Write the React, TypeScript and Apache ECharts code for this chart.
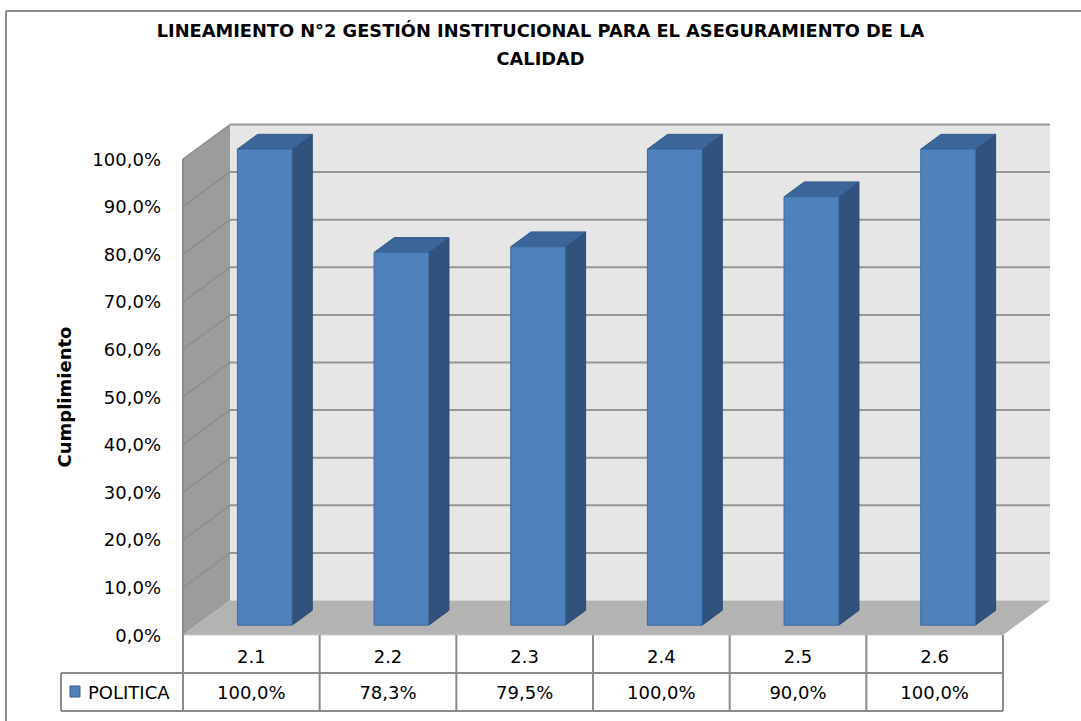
import React, { useEffect, useRef } from "react";
import * as echarts from "echarts";

const categories = ["2.1", "2.2", "2.3", "2.4", "2.5", "2.6"];
const politica = [100, 78.3, 79.5, 100, 90, 100];
const yTicks = [0, 10, 20, 30, 40, 50, 60, 70, 80, 90, 100];
const seriesName = "POLITICA";
const titleText = "LINEAMIENTO N°2 GESTIÓN INSTITUCIONAL PARA EL ASEGURAMIENTO DE LA\nCALIDAD";
const yAxisTitle = "Cumplimiento";

const FONT = "'DejaVu Sans', 'Liberation Sans', sans-serif";
const pct = (v: number) => v.toFixed(1).replace(".", ",") + "%";

// depth vector of the 3D box (pixels)
const DX = 47;
const DY = -34.5;
const BAR_D0 = 0.285;
const BAR_D1 = 0.715;
const BAR_W = 0.4;

export default function App() {
  const ref = useRef<HTMLDivElement>(null);
  useEffect(() => {
    document.body.style.margin = "0";
    const chart = echarts.init(ref.current!, null, { renderer: "svg" });
    const n = categories.length;

    const wallsRender = (params: any, api: any) => {
      const bw = api.size([1, 0])[0];
      const c0 = api.coord([0, 0]);
      const left = c0[0] - bw / 2;
      const right = left + bw * n;
      const y0 = c0[1];
      const y100 = api.coord([0, 100])[1];
      const children: any[] = [];
      // back wall
      children.push({
        type: "rect",
        shape: { x: left + DX, y: y100 + DY, width: right - left, height: y0 - y100 },
        style: { fill: "#e6e6e6" },
      });
      // side wall
      children.push({
        type: "polygon",
        shape: { points: [[left, y100], [left + DX, y100 + DY], [left + DX, y0 + DY], [left, y0]] },
        style: { fill: "#9c9c9c" },
      });
      // floor
      children.push({
        type: "polygon",
        shape: { points: [[left, y0], [right, y0], [right + DX, y0 + DY], [left + DX, y0 + DY]] },
        style: { fill: "#b3b3b3" },
      });
      // gridlines
      yTicks.forEach((t) => {
        if (t === 0) return;
        const y = api.coord([0, t])[1];
        children.push({
          type: "line",
          shape: { x1: left + DX, y1: y + DY, x2: right + DX, y2: y + DY },
          style: { stroke: "#969696", lineWidth: 2 },
        });
        children.push({
          type: "line",
          shape: { x1: left, y1: y, x2: left + DX, y2: y + DY },
          style: { stroke: "#8a8a8a", lineWidth: 1.2 },
        });
      });
      // side wall front edge / axis line
      children.push({
        type: "line",
        shape: { x1: left, y1: y100, x2: left, y2: y0 },
        style: { stroke: "#8c8c8c", lineWidth: 2 },
      });
      // data table
      const rowH = 38;
      const tStroke = { stroke: "#8c8c8c", lineWidth: 2 };
      children.push({ type: "line", shape: { x1: left, y1: y0, x2: right, y2: y0 }, style: { stroke: "#c8c8c8", lineWidth: 1 } });
      children.push({ type: "line", shape: { x1: 61, y1: y0 + rowH, x2: right, y2: y0 + rowH }, style: tStroke });
      children.push({ type: "line", shape: { x1: 61, y1: y0 + rowH * 2, x2: right, y2: y0 + rowH * 2 }, style: tStroke });
      children.push({ type: "line", shape: { x1: 61, y1: y0 + rowH, x2: 61, y2: y0 + rowH * 2 }, style: tStroke });
      for (let k = 0; k <= n; k++) {
        const x = left + bw * k;
        children.push({ type: "line", shape: { x1: x, y1: y0, x2: x, y2: y0 + rowH * 2 }, style: tStroke });
      }
      // legend key + name
      children.push({
        type: "rect",
        shape: { x: 70, y: y0 + rowH + 13, width: 10, height: 11 },
        style: { fill: "#4f81bd", stroke: "#385d8a", lineWidth: 1 },
      });
      children.push({
        type: "text",
        style: { x: 88, y: y0 + rowH * 1.5, text: seriesName, fill: "#000", font: `18px ${FONT}`, verticalAlign: "middle", align: "left" },
      });
      return { type: "group", children };
    };

    const barsRender = (params: any, api: any) => {
      const i = api.value(0);
      const v = api.value(1);
      const bw = api.size([1, 0])[0];
      const base = api.coord([i, 0]);
      const top = api.coord([i, v]);
      const w = bw * BAR_W;
      const fx = DX * BAR_D0, fy = DY * BAR_D0;
      const ddx = DX * (BAR_D1 - BAR_D0), ddy = DY * (BAR_D1 - BAR_D0);
      const xl = base[0] - w / 2 + fx;
      const xr = xl + w;
      const yb = base[1] + fy;
      const yt = top[1] + fy;
      return {
        type: "group",
        children: [
          {
            type: "polygon",
            shape: { points: [[xr, yt], [xr + ddx, yt + ddy], [xr + ddx, yb + ddy], [xr, yb]] },
            style: { fill: "#30527d", stroke: "#2a4870", lineWidth: 1 },
          },
          {
            type: "polygon",
            shape: { points: [[xl, yt], [xl + ddx, yt + ddy], [xr + ddx, yt + ddy], [xr, yt]] },
            style: { fill: "#3c6699", stroke: "#34598a", lineWidth: 1 },
          },
          {
            type: "rect",
            shape: { x: xl, y: yt, width: w, height: yb - yt },
            style: { fill: "#4f81bd", stroke: "#3d6a9e", lineWidth: 1 },
          },
          {
            type: "text",
            style: {
              x: base[0], y: base[1] + 57, text: pct(v), fill: "#000",
              font: `18px ${FONT}`, align: "center", verticalAlign: "middle",
            },
          },
        ],
      };
    };

    chart.setOption({
      animation: false,
      backgroundColor: "#ffffff",
      title: {
        text: titleText,
        left: "center",
        top: 11,
        textStyle: { fontFamily: FONT, fontWeight: "bold", fontSize: 17.8, lineHeight: 28, color: "#000" },
      },
      graphic: [
        { type: "line", shape: { x1: 6, y1: 11, x2: 1090, y2: 11 }, style: { stroke: "#8c8c8c", lineWidth: 2 } },
        { type: "line", shape: { x1: 6, y1: 11, x2: 6, y2: 730 }, style: { stroke: "#8c8c8c", lineWidth: 2 } },
      ],
      grid: { left: 183, right: 78, top: 159, bottom: 86, containLabel: false },
      xAxis: {
        type: "category",
        data: categories,
        axisLine: { show: false },
        axisTick: { show: false },
        axisLabel: { show: true, color: "#000", fontFamily: FONT, fontSize: 18, margin: 12 },
      },
      yAxis: {
        type: "value",
        min: 0,
        max: 100,
        interval: 10,
        name: yAxisTitle,
        nameLocation: "middle",
        nameRotate: 90,
        nameGap: 110,
        nameTextStyle: { fontFamily: FONT, fontWeight: "bold", fontSize: 18, color: "#000" },
        axisLine: { show: false },
        axisTick: { show: false },
        splitLine: { show: false },
        axisLabel: { color: "#000", fontFamily: FONT, fontSize: 18, margin: 22, padding: [4, 0, 0, 0], formatter: (v: number) => pct(v) },
      },
      series: [
        {
          type: "custom",
          name: "walls",
          z: 1,
          clip: false,
          silent: true,
          renderItem: wallsRender,
          data: [[0, 0]],
          encode: { x: 0, y: 1 },
        },
        {
          type: "custom",
          name: seriesName,
          z: 2,
          clip: false,
          renderItem: barsRender,
          data: politica.map((v, i) => [i, v]),
          encode: { x: 0, y: 1 },
        },
      ],
    });
    return () => chart.dispose();
  }, []);
  return <div ref={ref} style={{ width: 1081, height: 721 }} />;
}
